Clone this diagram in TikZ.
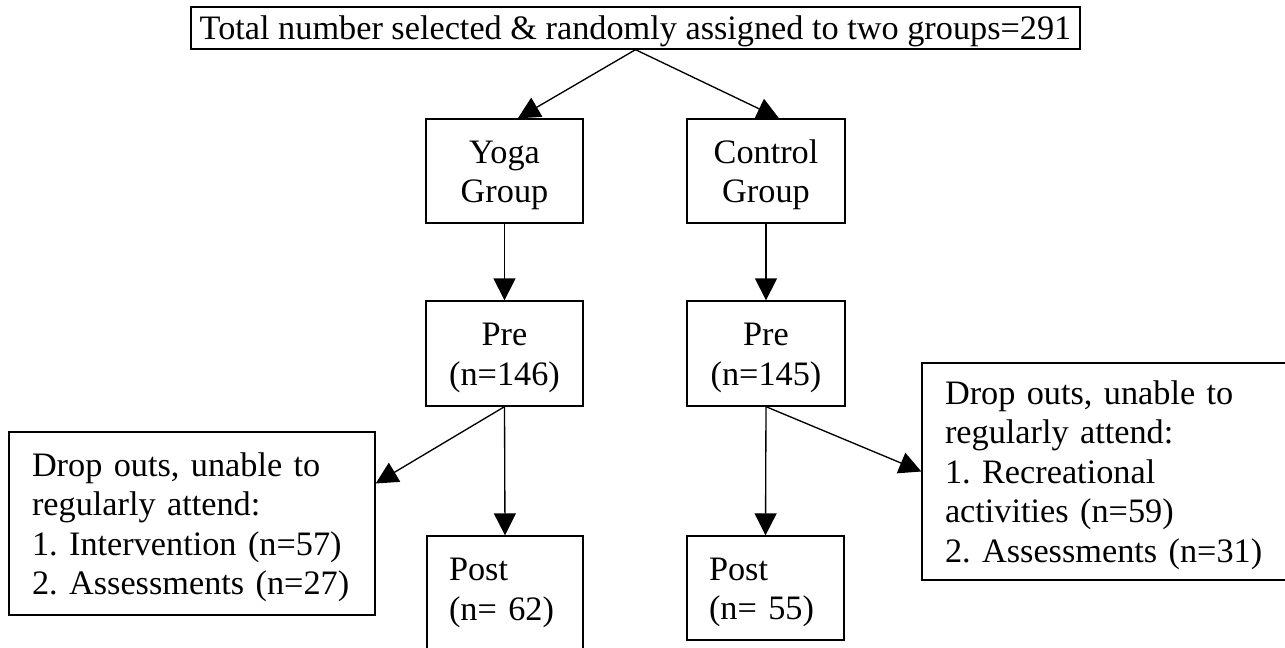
\documentclass[tikz,border=0pt]{standalone}
\usepackage{fontspec}
\setmainfont{Liberation Serif}
\usetikzlibrary{arrows.meta}
\tikzset{
	box/.style={draw, line width=1pt, inner sep=0pt, text height=23.2pt,
		font=\fontsize{25.7pt}{29.6pt}\selectfont\frenchspacing},
	stackbox/.style={box, align=center},
	listbox/.style={box, align=left, inner xsep=17.25pt},
	flow/.style={-{Triangle[length=16.5pt,width=16.5pt]}, line width=1pt},
}
\begin{document}
\begin{tikzpicture}[x=0.75pt,y=-0.75pt]
		\useasboundingbox (0,0) rectangle (1285,647);
		% Totalt utvalg
		\node[box, minimum width=666.75pt, minimum height=31.5pt] (total) at (635.5,28)
			{Total number selected \& randomly assigned to two groups=291};
		% Grupper
		\node[stackbox, text width=117.75pt, minimum height=78pt] (yoga) at (504.5,171) {Yoga\\Group};
		\node[stackbox, text width=118.5pt, minimum height=78pt] (control) at (766,171) {Control\\Group};
		% Pre
		\node[stackbox, text width=117.75pt, minimum height=78.75pt] (yogapre) at (504.5,353.5) {Pre\\(n=146)};
		\node[stackbox, text width=118.5pt, minimum height=78.75pt] (ctrlpre) at (766,353.5) {Pre\\(n=145)};
		% Post
		\node[listbox, inner xsep=16.5pt, text width=84pt, minimum height=97.5pt, text depth=53.6pt]
			(yogapost) at (505,601) {Post\\(n= 62)};
		\node[listbox, inner xsep=16.5pt, text width=84.75pt, minimum height=78pt]
			(ctrlpost) at (765.5,588) {Post\\(n= 55)};
		% Frafall
		\node[listbox, text width=240pt, minimum height=137.25pt] (dropyoga) at (192,523.5)
			{Drop outs, unable to\\regularly attend:\\1. Intervention (n=57)\\2. Assessments (n=27)};
		\node[listbox, text width=265.5pt, minimum height=162.75pt] (dropctrl) at (1122,471.5)
			{Drop outs, unable to\\regularly attend:\\1. Recreational\\activities (n=59)\\2. Assessments (n=31)};
		% Piler
		\draw[flow] (total.south) -- ([xshift=10pt]yoga.north);
		\draw[flow] (total.south) -- ([xshift=9.75pt]control.north);
		\draw[flow] (yoga.south) -- (yogapre.north);
		\draw[flow] (control.south) -- (ctrlpre.north);
		\draw[flow] (yogapre.south) -- (yogapost.north);
		\draw[flow] (yogapre.south) -- ([yshift=30pt]dropyoga.east);
		\draw[flow] (ctrlpre.south) -- (ctrlpost.north);
		\draw[flow] (ctrlpre.south) -- (dropctrl.west);
	\end{tikzpicture}
\end{document}
